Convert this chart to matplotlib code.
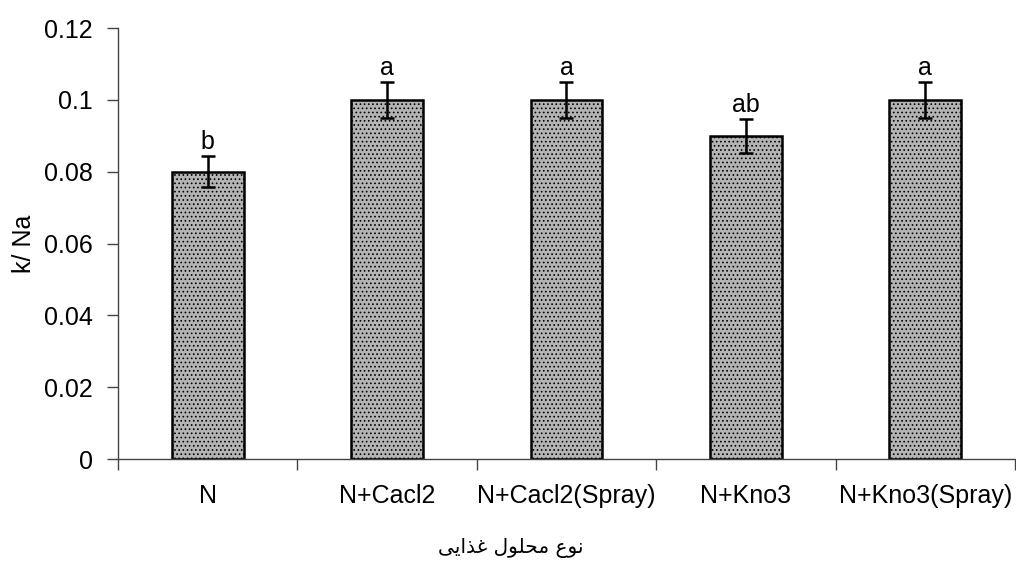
import matplotlib
matplotlib.use("Agg")
import matplotlib.pyplot as plt
import numpy as np

categories = ["N", "N+Cacl2", "N+Cacl2(Spray)", "N+Kno3", "N+Kno3(Spray)"]
values = [0.080, 0.100, 0.100, 0.090, 0.100]
errors = [0.0044, 0.005, 0.005, 0.0048, 0.005]
letters = ["b", "a", "a", "ab", "a"]
y_ticks = [0, 0.02, 0.04, 0.06, 0.08, 0.1, 0.12]
y_tick_labels = ["0", "0.02", "0.04", "0.06", "0.08", "0.1", "0.12"]
y_label = "k/ Na"
x_label = "نوع محلول غذایی"

# --- minimal Arabic/Persian shaping (matplotlib has no text shaping) ---
FORMS = {  # isolated, final, initial, medial
    "\u0646": ("\uFEE5", "\uFEE6", "\uFEE7", "\uFEE8"),
    "\u0648": ("\uFEED", "\uFEEE", None, None),
    "\u0639": ("\uFEC9", "\uFECA", "\uFECB", "\uFECC"),
    "\u0645": ("\uFEE1", "\uFEE2", "\uFEE3", "\uFEE4"),
    "\u062D": ("\uFEA1", "\uFEA2", "\uFEA3", "\uFEA4"),
    "\u0644": ("\uFEDD", "\uFEDE", "\uFEDF", "\uFEE0"),
    "\u063A": ("\uFECD", "\uFECE", "\uFECF", "\uFED0"),
    "\u0630": ("\uFEAB", "\uFEAC", None, None),
    "\u0627": ("\uFE8D", "\uFE8E", None, None),
    "\u06CC": ("\uFBFC", "\uFBFD", "\uFBFE", "\uFBFF"),
}


def shape(text):
    out = []
    n = len(text)
    for i, ch in enumerate(text):
        if ch not in FORMS:
            out.append(ch)
            continue
        prev = text[i - 1] if i > 0 else None
        nxt = text[i + 1] if i < n - 1 else None
        joins_prev = prev in FORMS and FORMS[prev][2] is not None
        joins_next = nxt in FORMS and FORMS[ch][2] is not None
        iso, fin, ini, med = FORMS[ch]
        if joins_prev and joins_next:
            out.append(med)
        elif joins_prev:
            out.append(fin)
        elif joins_next:
            out.append(ini)
        else:
            out.append(iso)
    return "".join(out)[::-1]


plt.rcParams["font.family"] = ["Liberation Sans", "DejaVu Sans"]
plt.rcParams["hatch.color"] = "#4a4a4a"
plt.rcParams["hatch.linewidth"] = 0.7

fig = plt.figure(figsize=(10.16, 5.68), dpi=100)
ax = fig.add_axes([0.1161, 0.1919, 0.8829, 0.7588])

x = np.arange(len(categories))
ax.bar(x, values, width=0.4, color="#b4b4b4", edgecolor="black",
       linewidth=1.8, hatch="....", zorder=2)
ax.errorbar(x, values, yerr=errors, fmt="none", ecolor="black",
            elinewidth=1.8, capsize=5, capthick=1.8, zorder=3)

for xi, v, e, lab in zip(x, values, errors, letters):
    ax.text(xi, v + e + 0.0004, lab, ha="center", va="bottom", fontsize=18,
            zorder=4)

ax.set_xlim(-0.5, len(categories) - 0.5)
ax.set_ylim(0, 0.12)
ax.set_yticks(y_ticks)
ax.set_yticklabels(y_tick_labels, fontsize=18)
ax.set_xticks(x)
ax.set_xticklabels(categories, fontsize=18)
ax.tick_params(axis="x", length=0, pad=18)
ax.set_xticks(np.arange(len(categories) + 1) - 0.5, minor=True)
ax.tick_params(axis="x", which="minor", length=8, width=1, color="#444444")
ax.tick_params(axis="y", length=8, width=1, color="#444444", pad=10)

for s in ["top", "right"]:
    ax.spines[s].set_visible(False)
for s in ["left", "bottom"]:
    ax.spines[s].set_color("#444444")
    ax.spines[s].set_linewidth(1)

ax.set_ylabel(y_label, fontsize=18, labelpad=6)
fig.text(0.503, 0.035, shape(x_label), ha="center", va="center",
         fontsize=14.5, family=["DejaVu Sans"])

fig.savefig("out.png", dpi=100)
